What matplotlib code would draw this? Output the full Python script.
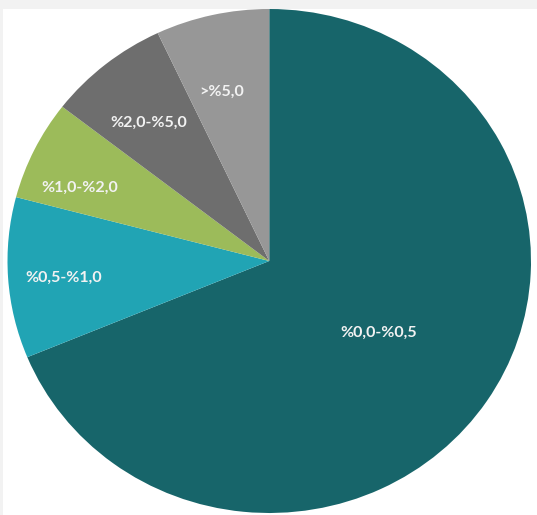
import numpy as np
import matplotlib
matplotlib.use("Agg")
import matplotlib.pyplot as plt

labels = ["%0,0-%0,5", "%0,5-%1,0", "%1,0-%2,0", "%2,0-%5,0", ">%5,0"]
values = [68.7, 10.3, 6.4, 7.5, 7.0]
colors = ["#17656a", "#21a4b4", "#9cbb5a", "#6e6e6e", "#979797"]
label_dist = [0.506, 0.787, 0.782, 0.716, 0.696]
label_turn = [-0.7, 0.9, 4.3, 1.1, 2.7]

W, H = 537, 515
fig = plt.figure(figsize=(W / 100, H / 100), dpi=100)
fig.patch.set_facecolor("#f2f2f2")

bg = fig.add_axes([3 / W, 0, 1 - 3 / W, (H - 9) / H], zorder=-5)
bg.set_facecolor("white")
bg.set_xticks([])
bg.set_yticks([])
for s in bg.spines.values():
    s.set_visible(False)

left, right, top, bottom = 7.5, 531, 9, 513
ax = fig.add_axes([left / W, (H - bottom) / H, (right - left) / W, (bottom - top) / H], zorder=1)
ax.set_facecolor("none")
wedges, _ = ax.pie(values, colors=colors, startangle=90, counterclock=False,
                   radius=1, center=(0, 0), wedgeprops=dict(linewidth=0))
ax.set_aspect("auto")
ax.set_xlim(-1, 1)
ax.set_ylim(-1, 1)
ax.axis("off")

for w, lab, d, t in zip(wedges, labels, label_dist, label_turn):
    mid = np.deg2rad((w.theta1 + w.theta2) / 2 + t)
    ax.text(d * np.cos(mid), d * np.sin(mid), lab, ha="center", va="center",
            color="#f2f2f2", fontsize=11.5, fontweight="bold", family="Lato")

fig.savefig("out.png", dpi=100, facecolor=fig.get_facecolor())
